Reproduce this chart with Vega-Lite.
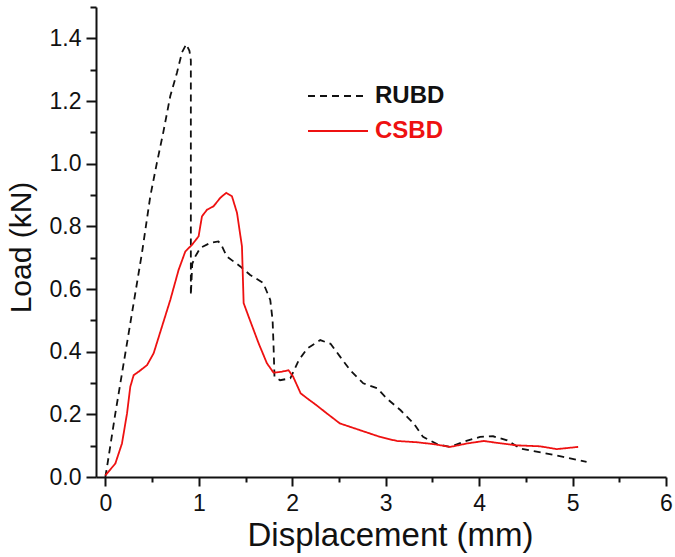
{
  "$schema": "https://vega.github.io/schema/vega-lite/v6.json",
  "width": 570,
  "height": 470,
  "autosize": {"type": "none"},
  "padding": {"left": 96, "top": 7, "right": 9, "bottom": 80},
  "background": "white",
  "config": {
    "view": {"stroke": null},
    "axis": {
      "grid": false,
      "labelFont": "Liberation Sans",
      "labelFontSize": 23,
      "labelColor": "#111",
      "titleFont": "Liberation Sans",
      "titleFontWeight": "normal",
      "titleColor": "#111",
      "domainColor": "#111",
      "domainWidth": 2,
      "tickColor": "#111",
      "tickWidth": 2
    }
  },
  "data": {"values": [
    {"s":"RUBD","i":1,"x":0,"y":0},
    {"s":"RUBD","i":2,"x":0.018,"y":0.032},
    {"s":"RUBD","i":3,"x":0.107,"y":0.203},
    {"s":"RUBD","i":4,"x":0.214,"y":0.395},
    {"s":"RUBD","i":5,"x":0.303,"y":0.555},
    {"s":"RUBD","i":6,"x":0.392,"y":0.715},
    {"s":"RUBD","i":7,"x":0.481,"y":0.896},
    {"s":"RUBD","i":8,"x":0.55,"y":1.0},
    {"s":"RUBD","i":9,"x":0.62,"y":1.1},
    {"s":"RUBD","i":10,"x":0.695,"y":1.216},
    {"s":"RUBD","i":11,"x":0.767,"y":1.291},
    {"s":"RUBD","i":12,"x":0.82,"y":1.355},
    {"s":"RUBD","i":13,"x":0.866,"y":1.381},
    {"s":"RUBD","i":14,"x":0.90,"y":1.36},
    {"s":"RUBD","i":15,"x":0.915,"y":1.33},
    {"s":"RUBD","i":16,"x":0.915,"y":0.58},
    {"s":"RUBD","i":17,"x":0.93,"y":0.68},
    {"s":"RUBD","i":18,"x":0.963,"y":0.704},
    {"s":"RUBD","i":19,"x":1.016,"y":0.731},
    {"s":"RUBD","i":20,"x":1.123,"y":0.747},
    {"s":"RUBD","i":21,"x":1.21,"y":0.752},
    {"s":"RUBD","i":22,"x":1.25,"y":0.735},
    {"s":"RUBD","i":23,"x":1.30,"y":0.704},
    {"s":"RUBD","i":24,"x":1.444,"y":0.672},
    {"s":"RUBD","i":25,"x":1.55,"y":0.645},
    {"s":"RUBD","i":26,"x":1.69,"y":0.619},
    {"s":"RUBD","i":27,"x":1.765,"y":0.565},
    {"s":"RUBD","i":28,"x":1.79,"y":0.5},
    {"s":"RUBD","i":29,"x":1.80,"y":0.42},
    {"s":"RUBD","i":30,"x":1.81,"y":0.32},
    {"s":"RUBD","i":31,"x":1.87,"y":0.309},
    {"s":"RUBD","i":32,"x":1.98,"y":0.315},
    {"s":"RUBD","i":33,"x":2.07,"y":0.373},
    {"s":"RUBD","i":34,"x":2.16,"y":0.41},
    {"s":"RUBD","i":35,"x":2.30,"y":0.437},
    {"s":"RUBD","i":36,"x":2.41,"y":0.425},
    {"s":"RUBD","i":37,"x":2.51,"y":0.385},
    {"s":"RUBD","i":38,"x":2.62,"y":0.341},
    {"s":"RUBD","i":39,"x":2.76,"y":0.299},
    {"s":"RUBD","i":40,"x":2.91,"y":0.283},
    {"s":"RUBD","i":41,"x":3.01,"y":0.251},
    {"s":"RUBD","i":42,"x":3.16,"y":0.213},
    {"s":"RUBD","i":43,"x":3.30,"y":0.171},
    {"s":"RUBD","i":44,"x":3.40,"y":0.128},
    {"s":"RUBD","i":45,"x":3.55,"y":0.105},
    {"s":"RUBD","i":46,"x":3.69,"y":0.096},
    {"s":"RUBD","i":47,"x":3.83,"y":0.112},
    {"s":"RUBD","i":48,"x":4.01,"y":0.128},
    {"s":"RUBD","i":49,"x":4.15,"y":0.130},
    {"s":"RUBD","i":50,"x":4.30,"y":0.117},
    {"s":"RUBD","i":51,"x":4.44,"y":0.091},
    {"s":"RUBD","i":52,"x":4.69,"y":0.077},
    {"s":"RUBD","i":53,"x":4.90,"y":0.064},
    {"s":"RUBD","i":54,"x":5.15,"y":0.048},
    {"s":"CSBD","i":1,"x":0,"y":0.005},
    {"s":"CSBD","i":2,"x":0.107,"y":0.043},
    {"s":"CSBD","i":3,"x":0.178,"y":0.107},
    {"s":"CSBD","i":4,"x":0.232,"y":0.203},
    {"s":"CSBD","i":5,"x":0.267,"y":0.288},
    {"s":"CSBD","i":6,"x":0.303,"y":0.325},
    {"s":"CSBD","i":7,"x":0.356,"y":0.336},
    {"s":"CSBD","i":8,"x":0.446,"y":0.357},
    {"s":"CSBD","i":9,"x":0.517,"y":0.395},
    {"s":"CSBD","i":10,"x":0.606,"y":0.48},
    {"s":"CSBD","i":11,"x":0.695,"y":0.565},
    {"s":"CSBD","i":12,"x":0.784,"y":0.661},
    {"s":"CSBD","i":13,"x":0.856,"y":0.72},
    {"s":"CSBD","i":14,"x":0.927,"y":0.741},
    {"s":"CSBD","i":15,"x":0.998,"y":0.768},
    {"s":"CSBD","i":16,"x":1.034,"y":0.832},
    {"s":"CSBD","i":17,"x":1.088,"y":0.853},
    {"s":"CSBD","i":18,"x":1.158,"y":0.864},
    {"s":"CSBD","i":19,"x":1.23,"y":0.891},
    {"s":"CSBD","i":20,"x":1.294,"y":0.907},
    {"s":"CSBD","i":21,"x":1.355,"y":0.896},
    {"s":"CSBD","i":22,"x":1.409,"y":0.843},
    {"s":"CSBD","i":23,"x":1.462,"y":0.736},
    {"s":"CSBD","i":24,"x":1.48,"y":0.555},
    {"s":"CSBD","i":25,"x":1.533,"y":0.512},
    {"s":"CSBD","i":26,"x":1.64,"y":0.427},
    {"s":"CSBD","i":27,"x":1.729,"y":0.363},
    {"s":"CSBD","i":28,"x":1.80,"y":0.333},
    {"s":"CSBD","i":29,"x":1.89,"y":0.336},
    {"s":"CSBD","i":30,"x":1.96,"y":0.341},
    {"s":"CSBD","i":31,"x":2.01,"y":0.32},
    {"s":"CSBD","i":32,"x":2.09,"y":0.267},
    {"s":"CSBD","i":33,"x":2.16,"y":0.251},
    {"s":"CSBD","i":34,"x":2.26,"y":0.229},
    {"s":"CSBD","i":35,"x":2.37,"y":0.203},
    {"s":"CSBD","i":36,"x":2.51,"y":0.171},
    {"s":"CSBD","i":37,"x":2.73,"y":0.149},
    {"s":"CSBD","i":38,"x":2.94,"y":0.128},
    {"s":"CSBD","i":39,"x":3.12,"y":0.115},
    {"s":"CSBD","i":40,"x":3.33,"y":0.111},
    {"s":"CSBD","i":41,"x":3.51,"y":0.105},
    {"s":"CSBD","i":42,"x":3.69,"y":0.096},
    {"s":"CSBD","i":43,"x":3.87,"y":0.107},
    {"s":"CSBD","i":44,"x":4.05,"y":0.115},
    {"s":"CSBD","i":45,"x":4.19,"y":0.109},
    {"s":"CSBD","i":46,"x":4.40,"y":0.101},
    {"s":"CSBD","i":47,"x":4.65,"y":0.098},
    {"s":"CSBD","i":48,"x":4.83,"y":0.089},
    {"s":"CSBD","i":49,"x":5.06,"y":0.096}
  ]},
  "layer": [
    {
      "mark": {"type": "line", "strokeWidth": 1.8},
      "encoding": {
        "x": {"field": "x", "type": "quantitative", "scale": {"domain": [-0.1, 6], "nice": false, "zero": false},
              "axis": {"values": [0,1,2,3,4,5,6], "tickSize": 9, "labelPadding": 6, "title": "Displacement (mm)", "titleFontSize": 33, "titlePadding": 4, "titleX": 294, "labelFlush": false}},
        "y": {"field": "y", "type": "quantitative", "scale": {"domain": [0, 1.5], "nice": false},
              "axis": {"values": [0,0.2,0.4,0.6,0.8,1.0,1.2,1.4], "format": ".1f", "tickSize": 10, "labelPadding": 5, "title": "Load (kN)", "titleFontSize": 30, "titlePadding": 13, "titleY": 240, "labelFlush": false}},
        "color": {"field": "s", "type": "nominal", "scale": {"domain": ["RUBD", "CSBD"], "range": ["#111111", "#ee1111"]},
                  "legend": {"title": null, "orient": "none", "legendX": 226, "legendY": 73, "symbolType": "M-2,0H2", "symbolSize": 900, "symbolStrokeWidth": 1.8, "symbolFillColor": "transparent",
                             "labelFont": "Liberation Sans", "labelFontWeight": "bold", "labelFontSize": 24, "labelOffset": 21, "rowPadding": 7,
                             "encode": {"labels": {"update": {"fill": {"signal": "datum.value === 'CSBD' ? '#ee1111' : '#111111'"}}}}}},
        "strokeDash": {"field": "s", "type": "nominal", "scale": {"domain": ["RUBD", "CSBD"], "range": [[7, 5], [1, 0]]}},
        "order": {"field": "i", "type": "quantitative"},
        "detail": {"field": "s"}
      }
    },
    {
      "mark": {"type": "line", "opacity": 0},
      "encoding": {
        "x": {"field": "x", "type": "quantitative", "axis": {"orient": "bottom", "values": [0.5,1.5,2.5,3.5,4.5,5.5], "labels": false, "domain": false, "tickSize": 5, "title": null}},
        "y": {"field": "y", "type": "quantitative", "axis": {"orient": "left", "values": [0.1,0.3,0.5,0.7,0.9,1.1,1.3,1.5], "labels": false, "domain": false, "tickSize": 6, "title": null}},
        "detail": {"field": "s"},
        "order": {"field": "i", "type": "quantitative"}
      }
    }
  ],
  "resolve": {"axis": {"x": "independent", "y": "independent"}}
}
